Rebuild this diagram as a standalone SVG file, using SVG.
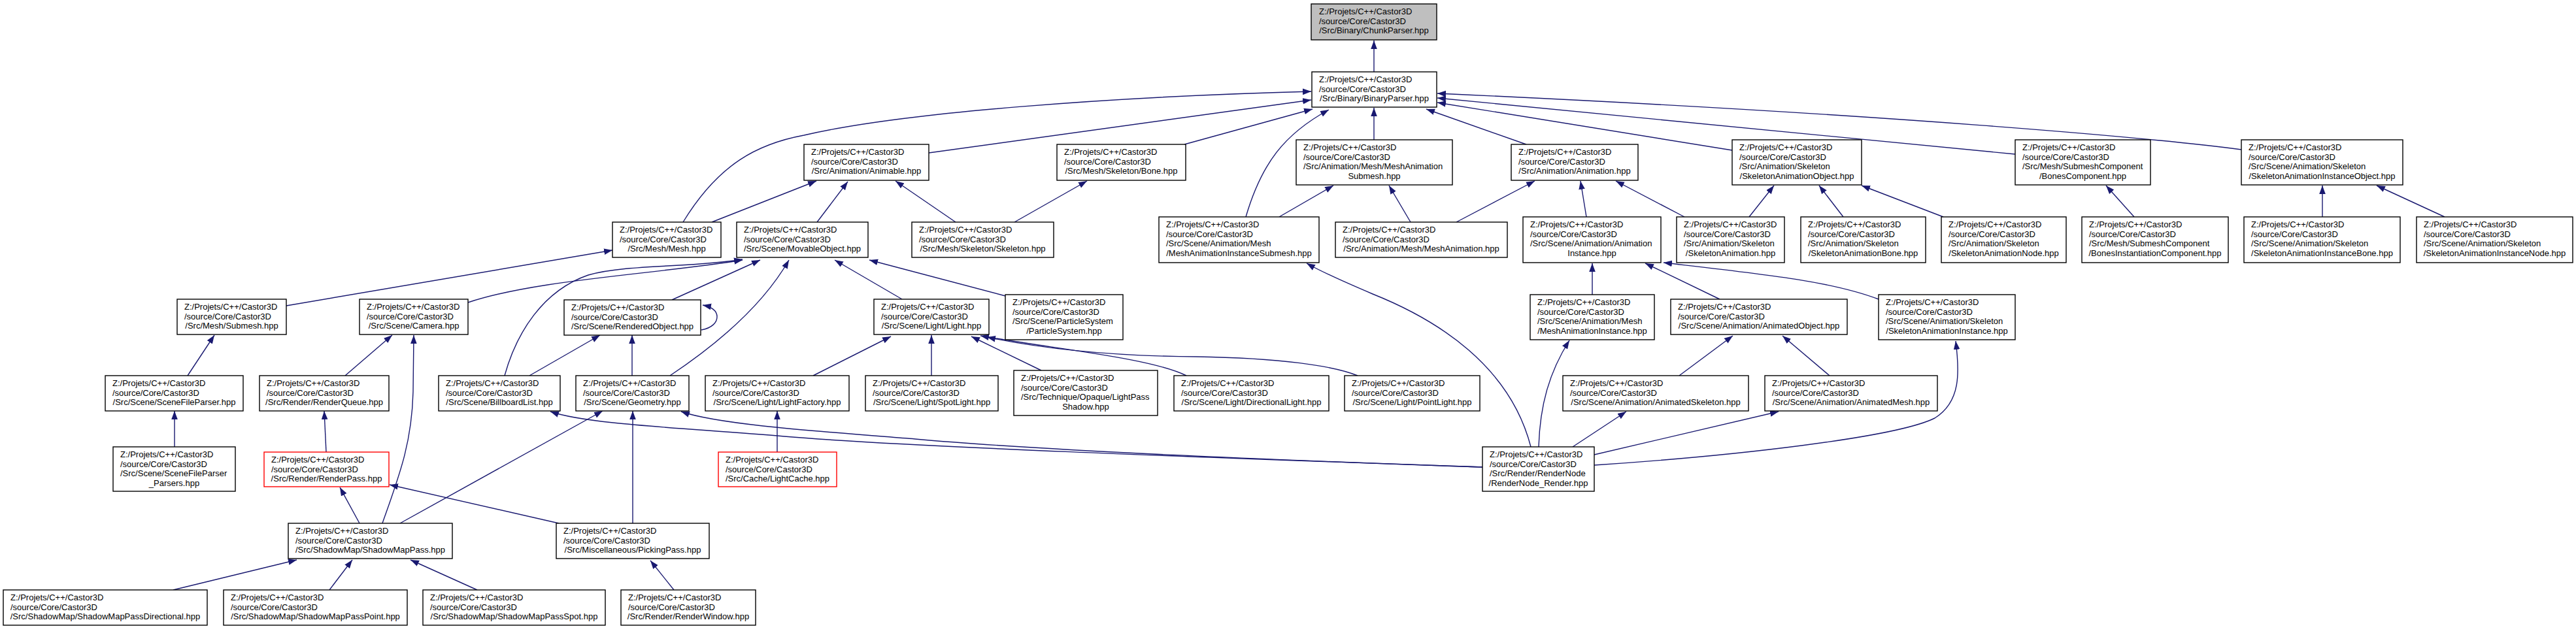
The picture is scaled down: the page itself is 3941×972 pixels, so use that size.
<svg xmlns="http://www.w3.org/2000/svg" width="3941" height="972" viewBox="0 0 3941 972">
<style>
.n rect{fill:#fff;stroke:#000;stroke-width:1.4}
.n rect.g{fill:#bfbfbf}
.n rect.r{stroke:#ff0000}
.n text{font-family:"Liberation Sans",Arial,sans-serif;font-size:13px;fill:#000}
.n text.c{text-anchor:middle}
.e path{fill:none;stroke:#191970;stroke-width:1.4;marker-end:url(#a)}
</style>
<defs>
<marker id="a" markerUnits="userSpaceOnUse" markerWidth="14" markerHeight="11" refX="13" refY="5" orient="auto"><path d="M0,0.2 L13,5 L0,9.8 z" fill="#191970"/></marker>
</defs>
<rect width="3941" height="972" fill="#fff"/>
<g id="edges" class="e">
<path d="M2102,110 L2102,62"/>
<path d="M1045,340 C1100,250 1160,220 1230,207 C1380,172 1700,148 2006,140"/>
<path d="M1421,234 L2006,153"/>
<path d="M1812,221 L2008,167"/>
<path d="M1906,332 C1930,250 1965,205 2033,168"/>
<path d="M2102,214 L2102,165"/>
<path d="M2335,221 L2182,167"/>
<path d="M2650,230 L2199,157"/>
<path d="M3083,236 L2199,150"/>
<path d="M3429,229 C3300,212 2900,175 2199,143"/>
<path d="M1089,340 L1249,277"/>
<path d="M1250,340 L1297,278"/>
<path d="M1462,340 L1370,277"/>
<path d="M1552,340 L1663,277"/>
<path d="M1957,332 L2040,284"/>
<path d="M2158,340 L2125,284"/>
<path d="M2228,340 L2348,277"/>
<path d="M2427,332 L2418,277"/>
<path d="M2577,332 L2472,277"/>
<path d="M2676,332 L2714,284"/>
<path d="M2820,332 L2783,284"/>
<path d="M2973,332 L2848,284"/>
<path d="M3265,332 L3222,284"/>
<path d="M3553,332 L3553,284"/>
<path d="M3740,332 L3636,284"/>
<path d="M438,468 L937,383"/>
<path d="M716,463 C820,428 1000,420 1136,398"/>
<path d="M772,575 C790,510 830,445 900,421 C960,404 1060,410 1136,397"/>
<path d="M1028,459 L1163,398"/>
<path d="M1025,575 C1070,545 1160,480 1207,398"/>
<path d="M1380,458 L1277,398"/>
<path d="M1538,453 L1330,398"/>
<path d="M1073,505 C1090,502 1097,493 1097,485 C1097,476 1090,470 1075,467"/>
<path d="M287,575 L328,513"/>
<path d="M528,575 L600,513"/>
<path d="M810,575 L918,513"/>
<path d="M967,575 L967,513"/>
<path d="M1244,575 L1363,515"/>
<path d="M1425,575 L1425,513"/>
<path d="M1593,567 L1486,515"/>
<path d="M1815,575 C1760,548 1620,535 1500,514"/>
<path d="M2077,575 C2040,560 1960,548 1830,546 C1700,545 1600,535 1510,516"/>
<path d="M2569,575 L2651,514"/>
<path d="M2799,575 L2727,514"/>
<path d="M2436,451 L2436,403"/>
<path d="M2631,458 L2517,403"/>
<path d="M2874,458 C2800,430 2700,420 2545,402"/>
<path d="M267,684 L267,629"/>
<path d="M499,692 L496,629"/>
<path d="M1189,692 L1189,629"/>
<path d="M550,801 L520,746"/>
<path d="M585,801 C610,730 630,680 632,600 L633,513"/>
<path d="M612,801 L922,629"/>
<path d="M855,801 L596,742"/>
<path d="M968,801 L968,629"/>
<path d="M265,903 L454,857"/>
<path d="M504,903 L539,857"/>
<path d="M730,903 L628,857"/>
<path d="M1031,903 L995,858"/>
<path d="M2342,684 C2310,560 2200,490 2100,450 C2060,433 2025,418 1999,403"/>
<path d="M2354,684 C2356,620 2370,570 2401,521"/>
<path d="M2406,684 L2488,630"/>
<path d="M2439,696 L2721,630"/>
<path d="M2439,712 C2650,698 2900,670 2960,640 C3000,615 2998,570 2992,522"/>
<path d="M2268,715 C2000,706 1600,690 1400,672 C1250,660 1100,650 1042,630"/>
<path d="M2268,715 C1900,702 1400,685 1200,668 C1050,655 900,650 842,630"/>
</g>
<g id="n0" class="n"><rect class="g" x="2006" y="6" width="192" height="55"/><text x="2018" y="22">Z:/Projets/C++/Castor3D</text><text x="2018" y="36.5">/source/Core/Castor3D</text><text class="c" x="2102" y="51">/Src/Binary/ChunkParser.hpp</text></g>
<g id="n1" class="n"><rect x="2007" y="110" width="191" height="54"/><text x="2018" y="126">Z:/Projets/C++/Castor3D</text><text x="2018" y="140.5">/source/Core/Castor3D</text><text class="c" x="2102.5" y="155">/Src/Binary/BinaryParser.hpp</text></g>
<g id="n2" class="n"><rect x="1230" y="221" width="191" height="55"/><text x="1241" y="237">Z:/Projets/C++/Castor3D</text><text x="1241" y="251.5">/source/Core/Castor3D</text><text class="c" x="1325.5" y="266">/Src/Animation/Animable.hpp</text></g>
<g id="n3" class="n"><rect x="1617" y="221" width="197" height="55"/><text x="1628" y="237">Z:/Projets/C++/Castor3D</text><text x="1628" y="251.5">/source/Core/Castor3D</text><text class="c" x="1715.5" y="266">/Src/Mesh/Skeleton/Bone.hpp</text></g>
<g id="n4" class="n"><rect x="1983" y="214" width="239" height="69"/><text x="1994" y="230">Z:/Projets/C++/Castor3D</text><text x="1994" y="244.5">/source/Core/Castor3D</text><text x="1994" y="259">/Src/Animation/Mesh/MeshAnimation</text><text class="c" x="2102.5" y="273.5">Submesh.hpp</text></g>
<g id="n5" class="n"><rect x="2312" y="221" width="194" height="55"/><text x="2323" y="237">Z:/Projets/C++/Castor3D</text><text x="2323" y="251.5">/source/Core/Castor3D</text><text class="c" x="2409" y="266">/Src/Animation/Animation.hpp</text></g>
<g id="n6" class="n"><rect x="2650" y="214" width="198" height="69"/><text x="2661" y="230">Z:/Projets/C++/Castor3D</text><text x="2661" y="244.5">/source/Core/Castor3D</text><text x="2661" y="259">/Src/Animation/Skeleton</text><text class="c" x="2749" y="273.5">/SkeletonAnimationObject.hpp</text></g>
<g id="n7" class="n"><rect x="3083" y="214" width="207" height="69"/><text x="3094" y="230">Z:/Projets/C++/Castor3D</text><text x="3094" y="244.5">/source/Core/Castor3D</text><text x="3094" y="259">/Src/Mesh/SubmeshComponent</text><text class="c" x="3186.5" y="273.5">/BonesComponent.hpp</text></g>
<g id="n8" class="n"><rect x="3429" y="214" width="247" height="69"/><text x="3440" y="230">Z:/Projets/C++/Castor3D</text><text x="3440" y="244.5">/source/Core/Castor3D</text><text x="3440" y="259">/Src/Scene/Animation/Skeleton</text><text class="c" x="3552.5" y="273.5">/SkeletonAnimationInstanceObject.hpp</text></g>
<g id="n9" class="n"><rect x="937" y="340" width="166" height="54"/><text x="948" y="356">Z:/Projets/C++/Castor3D</text><text x="948" y="370.5">/source/Core/Castor3D</text><text class="c" x="1020" y="385">/Src/Mesh/Mesh.hpp</text></g>
<g id="n10" class="n"><rect x="1127" y="340" width="201" height="54"/><text x="1138" y="356">Z:/Projets/C++/Castor3D</text><text x="1138" y="370.5">/source/Core/Castor3D</text><text class="c" x="1227.5" y="385">/Src/Scene/MovableObject.hpp</text></g>
<g id="n11" class="n"><rect x="1395" y="340" width="217" height="54"/><text x="1406" y="356">Z:/Projets/C++/Castor3D</text><text x="1406" y="370.5">/source/Core/Castor3D</text><text class="c" x="1503.5" y="385">/Src/Mesh/Skeleton/Skeleton.hpp</text></g>
<g id="n12" class="n"><rect x="1773" y="332" width="245" height="70"/><text x="1784" y="348">Z:/Projets/C++/Castor3D</text><text x="1784" y="362.5">/source/Core/Castor3D</text><text x="1784" y="377">/Src/Scene/Animation/Mesh</text><text class="c" x="1895.5" y="391.5">/MeshAnimationInstanceSubmesh.hpp</text></g>
<g id="n13" class="n"><rect x="2043" y="340" width="263" height="54"/><text x="2054" y="356">Z:/Projets/C++/Castor3D</text><text x="2054" y="370.5">/source/Core/Castor3D</text><text class="c" x="2174.5" y="385">/Src/Animation/Mesh/MeshAnimation.hpp</text></g>
<g id="n14" class="n"><rect x="2330" y="332" width="211" height="70"/><text x="2341" y="348">Z:/Projets/C++/Castor3D</text><text x="2341" y="362.5">/source/Core/Castor3D</text><text x="2341" y="377">/Src/Scene/Animation/Animation</text><text class="c" x="2435.5" y="391.5">Instance.hpp</text></g>
<g id="n15" class="n"><rect x="2565" y="332" width="165" height="70"/><text x="2576" y="348">Z:/Projets/C++/Castor3D</text><text x="2576" y="362.5">/source/Core/Castor3D</text><text x="2576" y="377">/Src/Animation/Skeleton</text><text class="c" x="2647.5" y="391.5">/SkeletonAnimation.hpp</text></g>
<g id="n16" class="n"><rect x="2755" y="332" width="191" height="70"/><text x="2766" y="348">Z:/Projets/C++/Castor3D</text><text x="2766" y="362.5">/source/Core/Castor3D</text><text x="2766" y="377">/Src/Animation/Skeleton</text><text class="c" x="2850.5" y="391.5">/SkeletonAnimationBone.hpp</text></g>
<g id="n17" class="n"><rect x="2970" y="332" width="191" height="70"/><text x="2981" y="348">Z:/Projets/C++/Castor3D</text><text x="2981" y="362.5">/source/Core/Castor3D</text><text x="2981" y="377">/Src/Animation/Skeleton</text><text class="c" x="3065.5" y="391.5">/SkeletonAnimationNode.hpp</text></g>
<g id="n18" class="n"><rect x="3185" y="332" width="224" height="70"/><text x="3196" y="348">Z:/Projets/C++/Castor3D</text><text x="3196" y="362.5">/source/Core/Castor3D</text><text x="3196" y="377">/Src/Mesh/SubmeshComponent</text><text class="c" x="3297" y="391.5">/BonesInstantiationComponent.hpp</text></g>
<g id="n19" class="n"><rect x="3433" y="332" width="239" height="70"/><text x="3444" y="348">Z:/Projets/C++/Castor3D</text><text x="3444" y="362.5">/source/Core/Castor3D</text><text x="3444" y="377">/Src/Scene/Animation/Skeleton</text><text class="c" x="3552.5" y="391.5">/SkeletonAnimationInstanceBone.hpp</text></g>
<g id="n20" class="n"><rect x="3697" y="332" width="239" height="70"/><text x="3708" y="348">Z:/Projets/C++/Castor3D</text><text x="3708" y="362.5">/source/Core/Castor3D</text><text x="3708" y="377">/Src/Scene/Animation/Skeleton</text><text class="c" x="3816.5" y="391.5">/SkeletonAnimationInstanceNode.hpp</text></g>
<g id="n21" class="n"><rect x="271" y="458" width="167" height="54"/><text x="282" y="474">Z:/Projets/C++/Castor3D</text><text x="282" y="488.5">/source/Core/Castor3D</text><text class="c" x="354.5" y="503">/Src/Mesh/Submesh.hpp</text></g>
<g id="n22" class="n"><rect x="550" y="458" width="166" height="54"/><text x="561" y="474">Z:/Projets/C++/Castor3D</text><text x="561" y="488.5">/source/Core/Castor3D</text><text class="c" x="633" y="503">/Src/Scene/Camera.hpp</text></g>
<g id="n23" class="n"><rect x="863" y="459" width="209" height="54"/><text x="874" y="475">Z:/Projets/C++/Castor3D</text><text x="874" y="489.5">/source/Core/Castor3D</text><text class="c" x="967.5" y="504">/Src/Scene/RenderedObject.hpp</text></g>
<g id="n24" class="n"><rect x="1337" y="458" width="176" height="54"/><text x="1348" y="474">Z:/Projets/C++/Castor3D</text><text x="1348" y="488.5">/source/Core/Castor3D</text><text class="c" x="1425" y="503">/Src/Scene/Light/Light.hpp</text></g>
<g id="n25" class="n"><rect x="1538" y="451" width="180" height="69"/><text x="1549" y="467">Z:/Projets/C++/Castor3D</text><text x="1549" y="481.5">/source/Core/Castor3D</text><text x="1549" y="496">/Src/Scene/ParticleSystem</text><text class="c" x="1628" y="510.5">/ParticleSystem.hpp</text></g>
<g id="n26" class="n"><rect x="2341" y="451" width="190" height="69"/><text x="2352" y="467">Z:/Projets/C++/Castor3D</text><text x="2352" y="481.5">/source/Core/Castor3D</text><text x="2352" y="496">/Src/Scene/Animation/Mesh</text><text class="c" x="2436" y="510.5">/MeshAnimationInstance.hpp</text></g>
<g id="n27" class="n"><rect x="2556" y="458" width="270" height="54"/><text x="2567" y="474">Z:/Projets/C++/Castor3D</text><text x="2567" y="488.5">/source/Core/Castor3D</text><text class="c" x="2691" y="503">/Src/Scene/Animation/AnimatedObject.hpp</text></g>
<g id="n28" class="n"><rect x="2874" y="451" width="209" height="69"/><text x="2885" y="467">Z:/Projets/C++/Castor3D</text><text x="2885" y="481.5">/source/Core/Castor3D</text><text x="2885" y="496">/Src/Scene/Animation/Skeleton</text><text class="c" x="2978.5" y="510.5">/SkeletonAnimationInstance.hpp</text></g>
<g id="n29" class="n"><rect x="161" y="575" width="211" height="54"/><text x="172" y="591">Z:/Projets/C++/Castor3D</text><text x="172" y="605.5">/source/Core/Castor3D</text><text class="c" x="266.5" y="620">/Src/Scene/SceneFileParser.hpp</text></g>
<g id="n30" class="n"><rect x="397" y="575" width="198" height="54"/><text x="408" y="591">Z:/Projets/C++/Castor3D</text><text x="408" y="605.5">/source/Core/Castor3D</text><text class="c" x="496" y="620">/Src/Render/RenderQueue.hpp</text></g>
<g id="n31" class="n"><rect x="671" y="575" width="186" height="54"/><text x="682" y="591">Z:/Projets/C++/Castor3D</text><text x="682" y="605.5">/source/Core/Castor3D</text><text class="c" x="764" y="620">/Src/Scene/BillboardList.hpp</text></g>
<g id="n32" class="n"><rect x="881" y="575" width="173" height="54"/><text x="892" y="591">Z:/Projets/C++/Castor3D</text><text x="892" y="605.5">/source/Core/Castor3D</text><text class="c" x="967.5" y="620">/Src/Scene/Geometry.hpp</text></g>
<g id="n33" class="n"><rect x="1079" y="575" width="220" height="54"/><text x="1090" y="591">Z:/Projets/C++/Castor3D</text><text x="1090" y="605.5">/source/Core/Castor3D</text><text class="c" x="1189" y="620">/Src/Scene/Light/LightFactory.hpp</text></g>
<g id="n34" class="n"><rect x="1324" y="575" width="203" height="54"/><text x="1335" y="591">Z:/Projets/C++/Castor3D</text><text x="1335" y="605.5">/source/Core/Castor3D</text><text class="c" x="1425.5" y="620">/Src/Scene/Light/SpotLight.hpp</text></g>
<g id="n35" class="n"><rect x="1551" y="567" width="220" height="69"/><text x="1562" y="583">Z:/Projets/C++/Castor3D</text><text x="1562" y="597.5">/source/Core/Castor3D</text><text x="1562" y="612">/Src/Technique/Opaque/LightPass</text><text class="c" x="1661" y="626.5">Shadow.hpp</text></g>
<g id="n36" class="n"><rect x="1796" y="575" width="237" height="54"/><text x="1807" y="591">Z:/Projets/C++/Castor3D</text><text x="1807" y="605.5">/source/Core/Castor3D</text><text class="c" x="1914.5" y="620">/Src/Scene/Light/DirectionalLight.hpp</text></g>
<g id="n37" class="n"><rect x="2057" y="575" width="207" height="54"/><text x="2068" y="591">Z:/Projets/C++/Castor3D</text><text x="2068" y="605.5">/source/Core/Castor3D</text><text class="c" x="2160.5" y="620">/Src/Scene/Light/PointLight.hpp</text></g>
<g id="n38" class="n"><rect x="2391" y="575" width="284" height="54"/><text x="2402" y="591">Z:/Projets/C++/Castor3D</text><text x="2402" y="605.5">/source/Core/Castor3D</text><text class="c" x="2533" y="620">/Src/Scene/Animation/AnimatedSkeleton.hpp</text></g>
<g id="n39" class="n"><rect x="2700" y="575" width="264" height="54"/><text x="2711" y="591">Z:/Projets/C++/Castor3D</text><text x="2711" y="605.5">/source/Core/Castor3D</text><text class="c" x="2832" y="620">/Src/Scene/Animation/AnimatedMesh.hpp</text></g>
<g id="n40" class="n"><rect x="173" y="684" width="187" height="68"/><text x="184" y="700">Z:/Projets/C++/Castor3D</text><text x="184" y="714.5">/source/Core/Castor3D</text><text x="184" y="729">/Src/Scene/SceneFileParser</text><text class="c" x="266.5" y="743.5">_Parsers.hpp</text></g>
<g id="n41" class="n"><rect class="r" x="404" y="692" width="191" height="53"/><text x="415" y="708">Z:/Projets/C++/Castor3D</text><text x="415" y="722.5">/source/Core/Castor3D</text><text class="c" x="499.5" y="737">/Src/Render/RenderPass.hpp</text></g>
<g id="n42" class="n"><rect class="r" x="1099" y="692" width="181" height="53"/><text x="1110" y="708">Z:/Projets/C++/Castor3D</text><text x="1110" y="722.5">/source/Core/Castor3D</text><text class="c" x="1189.5" y="737">/Src/Cache/LightCache.hpp</text></g>
<g id="n43" class="n"><rect x="2268" y="684" width="171" height="68"/><text x="2279" y="700">Z:/Projets/C++/Castor3D</text><text x="2279" y="714.5">/source/Core/Castor3D</text><text x="2279" y="729">/Src/Render/RenderNode</text><text class="c" x="2353.5" y="743.5">/RenderNode_Render.hpp</text></g>
<g id="n44" class="n"><rect x="441" y="801" width="251" height="54"/><text x="452" y="817">Z:/Projets/C++/Castor3D</text><text x="452" y="831.5">/source/Core/Castor3D</text><text class="c" x="566.5" y="846">/Src/ShadowMap/ShadowMapPass.hpp</text></g>
<g id="n45" class="n"><rect x="851" y="801" width="234" height="54"/><text x="862" y="817">Z:/Projets/C++/Castor3D</text><text x="862" y="831.5">/source/Core/Castor3D</text><text class="c" x="968" y="846">/Src/Miscellaneous/PickingPass.hpp</text></g>
<g id="n46" class="n"><rect x="5" y="903" width="312" height="54"/><text x="16" y="919">Z:/Projets/C++/Castor3D</text><text x="16" y="933.5">/source/Core/Castor3D</text><text class="c" x="161" y="948">/Src/ShadowMap/ShadowMapPassDirectional.hpp</text></g>
<g id="n47" class="n"><rect x="342" y="903" width="281" height="54"/><text x="353" y="919">Z:/Projets/C++/Castor3D</text><text x="353" y="933.5">/source/Core/Castor3D</text><text class="c" x="482.5" y="948">/Src/ShadowMap/ShadowMapPassPoint.hpp</text></g>
<g id="n48" class="n"><rect x="647" y="903" width="279" height="54"/><text x="658" y="919">Z:/Projets/C++/Castor3D</text><text x="658" y="933.5">/source/Core/Castor3D</text><text class="c" x="786.5" y="948">/Src/ShadowMap/ShadowMapPassSpot.hpp</text></g>
<g id="n49" class="n"><rect x="950" y="903" width="206" height="54"/><text x="961" y="919">Z:/Projets/C++/Castor3D</text><text x="961" y="933.5">/source/Core/Castor3D</text><text class="c" x="1053" y="948">/Src/Render/RenderWindow.hpp</text></g>
</svg>
